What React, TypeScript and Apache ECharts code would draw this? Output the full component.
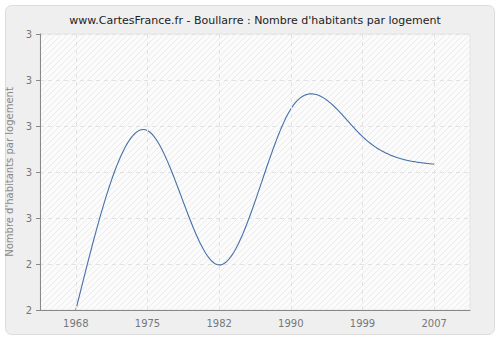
import React, { useEffect, useRef } from "react";
import * as echarts from "echarts";

const years = ["1968", "1975", "1982", "1990", "1999", "2007"];
const values = [2.3, 2.69, 2.398, 2.737, 2.677, 2.617];
const yMin = 2.3;
const yMax = 2.9;
const yStep = 0.1;

function makePattern(): HTMLCanvasElement {
  const c = document.createElement("canvas");
  c.width = 6;
  c.height = 6;
  const ctx = c.getContext("2d")!;
  ctx.fillStyle = "#fbfbfb";
  ctx.fillRect(0, 0, 6, 6);
  ctx.strokeStyle = "#ebebeb";
  ctx.lineWidth = 1;
  ctx.beginPath();
  ctx.moveTo(0, 6);
  ctx.lineTo(6, 0);
  ctx.moveTo(-3, 3);
  ctx.lineTo(3, -3);
  ctx.moveTo(3, 9);
  ctx.lineTo(9, 3);
  ctx.stroke();
  return c;
}

// natural cubic spline second derivatives (equal spacing h=1)
function splineM(y: number[]): number[] {
  const n = y.length;
  const M = new Array(n).fill(0);
  const a: number[] = [], b: number[] = [], c: number[] = [], d: number[] = [];
  for (let i = 1; i < n - 1; i++) {
    a.push(1);
    b.push(4);
    c.push(1);
    d.push(6 * (y[i + 1] - 2 * y[i] + y[i - 1]));
  }
  const m = d.length;
  for (let i = 1; i < m; i++) {
    const w = a[i] / b[i - 1];
    b[i] -= w * c[i - 1];
    d[i] -= w * d[i - 1];
  }
  const x = new Array(m).fill(0);
  for (let i = m - 1; i >= 0; i--) {
    x[i] = (d[i] - (i < m - 1 ? c[i] * x[i + 1] : 0)) / b[i];
  }
  for (let i = 0; i < m; i++) M[i + 1] = x[i];
  return M;
}

function splineAt(y: number[], M: number[], t: number): number {
  let i = Math.min(Math.floor(t), y.length - 2);
  const s = t - i;
  const A = 1 - s;
  return (
    A * y[i] +
    s * y[i + 1] +
    ((A * A * A - A) * M[i] + (s * s * s - s) * M[i + 1]) / 6
  );
}

export default function App() {
  const ref = useRef<HTMLDivElement>(null);
  useEffect(() => {
    if (!ref.current) return;
    const chart = echarts.init(ref.current, undefined, { renderer: "svg" });
    const pattern = makePattern();
    const M = splineM(values);
    chart.setOption({
      animation: false,
      backgroundColor: "#ffffff",
      graphic: [
        {
          type: "rect",
          shape: { x: 5.5, y: 5.5, width: 489, height: 329, r: 6 },
          style: { fill: "#efefef", stroke: "#dcdcdc", lineWidth: 1 },
          z: -10,
        },
        {
          type: "rect",
          shape: { x: 40, y: 34, width: 430, height: 276 },
          style: { fill: { image: pattern, repeat: "repeat" } as any, stroke: "#e4e4e4", lineWidth: 1 },
          z: -5,
        },
      ],
      title: {
        text: "www.CartesFrance.fr - Boullarre : Nombre d'habitants par logement",
        left: 250,
        textAlign: "center",
        top: 10,
        textStyle: { fontSize: 11, fontWeight: "normal", color: "#222", fontFamily: "DejaVu Sans" },
      },
      grid: { left: 40, right: 30, top: 34, bottom: 30, containLabel: false, outerBoundsMode: "none" },
      xAxis: {
        type: "category",
        data: years,
        boundaryGap: true,
        axisLine: { lineStyle: { color: "#888" } },
        axisTick: { alignWithLabel: true, length: 4, lineStyle: { color: "#888" } },
        axisLabel: { color: "#777", fontSize: 10, fontFamily: "DejaVu Sans", margin: 8 },
        splitLine: { show: false },
      },
      yAxis: {
        type: "value",
        min: yMin,
        max: yMax,
        interval: yStep,
        name: "Nombre d'habitants par logement",
        nameLocation: "middle",
        nameGap: 26,
        nameTextStyle: { color: "#888", fontSize: 10, fontFamily: "DejaVu Sans" },
        axisLine: { show: true, lineStyle: { color: "#888" } },
        axisTick: { show: true, length: 4, lineStyle: { color: "#888" } },
        axisLabel: {
          color: "#777",
          fontSize: 10,
          fontFamily: "DejaVu Sans",
          margin: 8,
          formatter: (v: number) => String(Math.round(v + 1e-9)),
        },
        splitLine: { show: true, lineStyle: { color: "#e2e2e2", type: [4, 4] } },
      },
      series: [
        {
          type: "line",
          data: values,
          symbol: "none",
          lineStyle: { opacity: 0 },
          silent: true,
          markLine: {
            silent: true,
            symbol: "none",
            label: { show: false },
            lineStyle: { color: "#e2e2e2", type: [4, 4], width: 1 },
            data: years.map((y) => ({ xAxis: y })),
          },
        },
        {
          type: "custom",
          data: values.map((v, i) => [i, v]),
          renderItem: (params: any, api: any) => {
            if (params.dataIndex !== 0) return null;
            const x0 = api.coord([0, yMin])[0];
            const x1 = api.coord([1, yMin])[0];
            const pts: number[][] = [];
            const n = values.length - 1;
            const steps = 60;
            for (let k = 0; k <= n * steps; k++) {
              const t = k / steps;
              const v = splineAt(values, M, t);
              pts.push([x0 + t * (x1 - x0), api.coord([0, v])[1]]);
            }
            return {
              type: "polyline",
              shape: { points: pts },
              style: { stroke: "#4670a8", lineWidth: 1.1, fill: "none" },
              z2: 10,
            };
          },
        },
      ],
    });
    return () => chart.dispose();
  }, []);
  return (
    <div
      ref={ref}
      style={{ width: 500, height: 340, position: "absolute", left: 0, top: 0 }}
    />
  );
}
